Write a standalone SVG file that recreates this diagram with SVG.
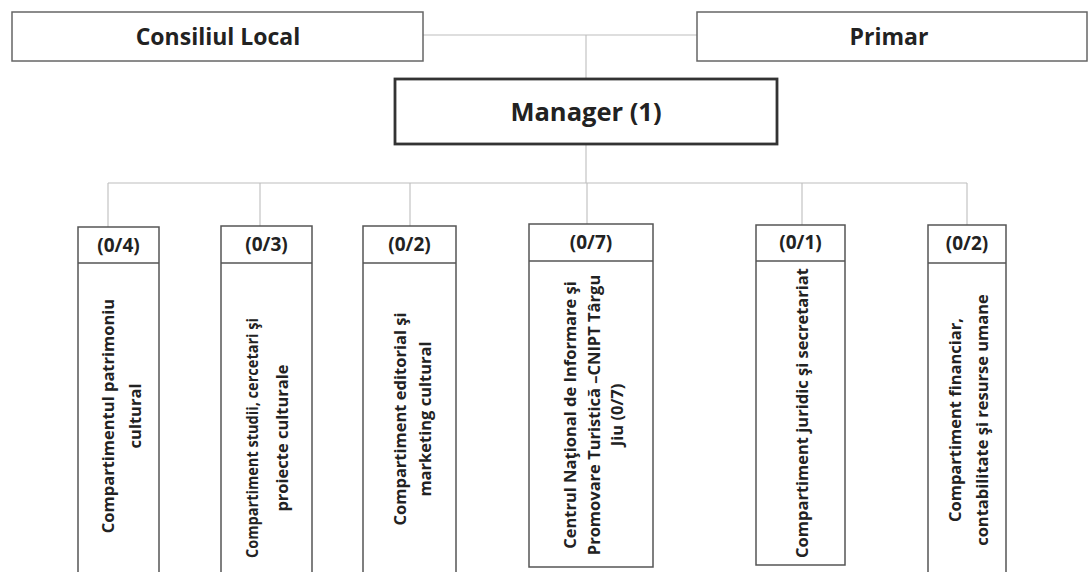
<svg xmlns="http://www.w3.org/2000/svg" width="1090" height="572" viewBox="0 0 1090 572">
<style>
.bg{fill:#ffffff}
.top{fill:#ffffff;stroke:#666;stroke-width:1.5}
.mgr{fill:#ffffff;stroke:#333;stroke-width:2.8}
.box{fill:#ffffff;stroke:#555;stroke-width:1.5}
.conn{fill:none;stroke:#bdbdbd;stroke-width:1.1}
.t1{font-family:"Open Sans","Liberation Sans",sans-serif;font-weight:bold;fill:#222;text-anchor:middle}
.big{font-size:23px}
.mg{font-size:25.5px}
.hd{font-size:19px}
.rt{font-size:16.5px}
</style>
<rect class="bg" x="0" y="0" width="1090" height="572"/>
<g id="connectors">
<line class="conn" x1="423" y1="35" x2="697" y2="35"/>
<line class="conn" x1="586" y1="35" x2="586" y2="79"/>
<line class="conn" x1="586" y1="144" x2="586" y2="183"/>
<line class="conn" x1="108" y1="183" x2="967" y2="183"/>
<line class="conn" x1="108" y1="183" x2="108" y2="227"/>
<line class="conn" x1="260" y1="183" x2="260" y2="226"/>
<line class="conn" x1="410" y1="183" x2="410" y2="226"/>
<line class="conn" x1="587" y1="183" x2="587" y2="224"/>
<line class="conn" x1="802" y1="183" x2="802" y2="225"/>
<line class="conn" x1="967" y1="183" x2="967" y2="225"/>
</g>
<g id="consiliul">
<rect class="top" x="12" y="12" width="411" height="49"/>
<text class="t1 big" x="218" y="45">Consiliul Local</text>
</g>
<g id="primar">
<rect class="top" x="697" y="12" width="390" height="49"/>
<text class="t1 big" x="889" y="45">Primar</text>
</g>
<g id="manager">
<rect class="mgr" x="395" y="79" width="382" height="65"/>
<text class="t1 mg" x="586" y="121">Manager (1)</text>
</g>
<g id="c1">
<rect class="box" x="78" y="227" width="81" height="360"/>
<line class="box" x1="78" y1="263" x2="159" y2="263"/>
<text class="t1 hd" x="118.5" y="252">(0/4)</text>
<text class="t1 rt" transform="translate(121,416) rotate(-90)"><tspan x="0" y="-7.5">Compartimentul patrimoniu</tspan><tspan x="0" y="19.5">cultural</tspan></text>
</g>
<g id="c2">
<rect class="box" x="221" y="226" width="91" height="361"/>
<line class="box" x1="221" y1="263" x2="312" y2="263"/>
<text class="t1 hd" x="266.5" y="251">(0/3)</text>
<text class="t1 rt" transform="translate(267,438) rotate(-90)"><tspan x="0" y="-9" textLength="240" lengthAdjust="spacingAndGlyphs">Compartiment studii, cercetari şi</tspan><tspan x="0" y="21">proiecte culturale</tspan></text>
</g>
<g id="c3">
<rect class="box" x="363" y="226" width="93" height="361"/>
<line class="box" x1="363" y1="263" x2="456" y2="263"/>
<text class="t1 hd" x="409.5" y="251">(0/2)</text>
<text class="t1 rt" transform="translate(412,419) rotate(-90)"><tspan x="0" y="-6.5">Compartiment editorial şi</tspan><tspan x="0" y="18.5">marketing cultural</tspan></text>
</g>
<g id="c4">
<rect class="box" x="529" y="224" width="124" height="343"/>
<line class="box" x1="529" y1="261" x2="653" y2="261"/>
<text class="t1 hd" x="591" y="249">(0/7)</text>
<text class="t1 rt" transform="translate(593.5,415) rotate(-90)"><tspan x="0" y="-17.5">Centrul Naţional de Informare şi</tspan><tspan x="0" y="6">Promovare Turistică –CNIPT Târgu</tspan><tspan x="0" y="29.5">Jiu (0/7)</tspan></text>
</g>
<g id="c5">
<rect class="box" x="756" y="225" width="89" height="340"/>
<line class="box" x1="756" y1="261" x2="845" y2="261"/>
<text class="t1 hd" x="800.5" y="249">(0/1)</text>
<text class="t1 rt" transform="translate(802,413) rotate(-90)"><tspan x="0" y="6">Compartiment juridic şi secretariat</tspan></text>
</g>
<g id="c6">
<rect class="box" x="928" y="225" width="78" height="362"/>
<line class="box" x1="928" y1="263" x2="1006" y2="263"/>
<text class="t1 hd" x="967" y="250">(0/2)</text>
<text class="t1 rt" transform="translate(968.5,420) rotate(-90)"><tspan x="0" y="-7.5">Compartiment financiar,</tspan><tspan x="0" y="19.5">contabilitate şi resurse umane</tspan></text>
</g>
</svg>
